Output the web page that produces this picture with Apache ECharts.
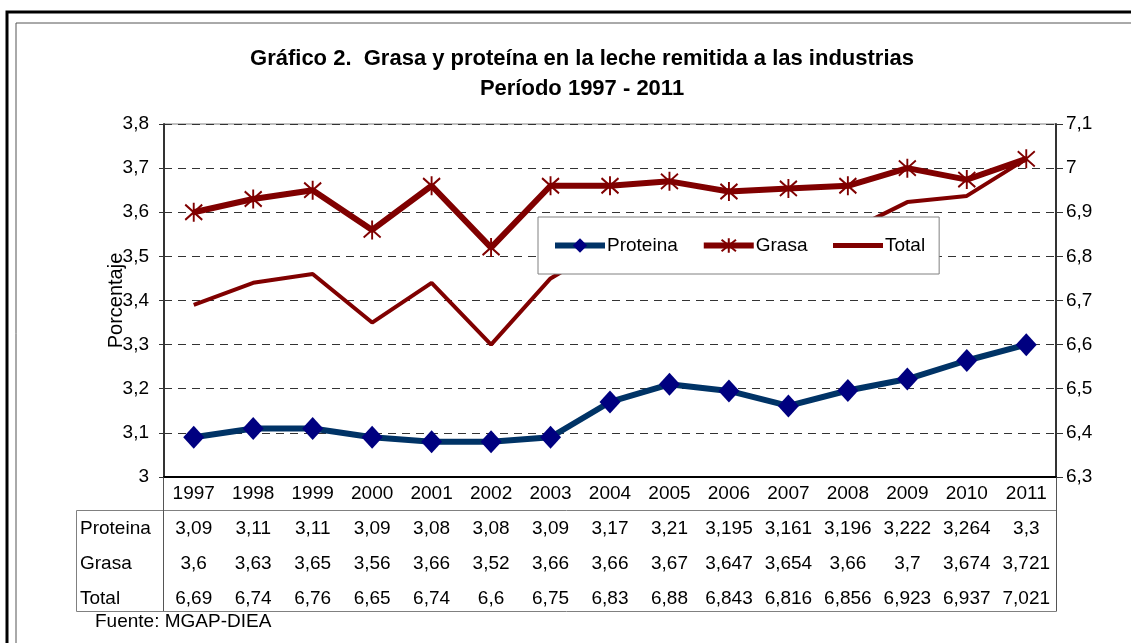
<!DOCTYPE html>
<html>
<head>
<meta charset="utf-8">
<script src="https://cdn.jsdelivr.net/npm/echarts@6/dist/echarts.min.js"></script>
<style>
html, body { margin: 0; padding: 0; background: #fff; }
#chart { width: 1131px; height: 643px; }
</style>
</head>
<body>
<div id="chart"></div>
<script>
// datos del cuadro
var years = ['1997', '1998', '1999', '2000', '2001', '2002', '2003', '2004', '2005', '2006', '2007', '2008', '2009', '2010', '2011'];
var proteina = [3.09, 3.11, 3.11, 3.09, 3.08, 3.08, 3.09, 3.17, 3.21, 3.195, 3.161, 3.196, 3.222, 3.264, 3.3];
var grasa = [3.6, 3.63, 3.65, 3.56, 3.66, 3.52, 3.66, 3.66, 3.67, 3.647, 3.654, 3.66, 3.7, 3.674, 3.721];
var total = [6.69, 6.74, 6.76, 6.65, 6.74, 6.6, 6.75, 6.83, 6.88, 6.843, 6.816, 6.856, 6.923, 6.937, 7.021];
var rowNames = ['Proteina', 'Grasa', 'Total'];

var FONT = '"Liberation Sans", Arial, sans-serif';
var coma = function (v) { return String(v).replace('.', ','); };
var tick = function (v) { return coma(+v.toFixed(1)); };

// asterisco del marcador de Grasa
var asterisk = 'path://M10,0L10,20M2,2L18,18M2,18L18,2';

// filas de la tabla como ejes extra (mismo grid)
function tableAxis(values, offset) {
	return {
		type: 'category',
		data: values.map(coma),
		position: 'bottom',
		offset: offset,
		axisLine: { show: false },
		axisTick: { show: false },
		axisLabel: { color: '#000', fontSize: 19, fontFamily: FONT, margin: 7, interval: 0 }
	};
}

var chart = echarts.init(document.getElementById('chart'));
var option = {
	backgroundColor: '#fff',
	animation: false,
	title: {
		text: 'Gráfico 2.  Grasa y proteína en la leche remitida a las industrias\nPeríodo 1997 - 2011',
		left: 577,
		textAlign: 'center',
		top: 39,
		textStyle: { fontFamily: FONT, fontSize: 22, fontWeight: 'bold', color: '#000', lineHeight: 30 }
	},
	legend: {
		left: 538,
		top: 217,
		padding: [19, 14, 19, 14],
		itemWidth: 50,
		itemHeight: 18,
		itemGap: 23,
		backgroundColor: '#fff',
		borderColor: '#808080',
		borderWidth: 1,
		borderRadius: 0,
		textStyle: { fontFamily: FONT, fontSize: 19, color: '#000', padding: [0, 0, 0, -3] },
		data: [
			{ name: rowNames[0], lineStyle: { width: 6 } },
			{ name: rowNames[1], lineStyle: { width: 6 } },
			{ name: rowNames[2], lineStyle: { width: 5 }, itemStyle: { opacity: 0 } }
		]
	},
	grid: {
		left: 164, right: 75, top: 124, bottom: 166,
		show: true, borderColor: '#808080', borderWidth: 1
	},
	xAxis: [
		{
			type: 'category',
			data: years,
			axisLine: { lineStyle: { color: '#000', width: 2 } },
			axisTick: { show: false },
			axisLabel: { color: '#000', fontSize: 19, fontFamily: FONT, margin: 7, interval: 0 }
		},
		tableAxis(proteina, 35),
		tableAxis(grasa, 70),
		tableAxis(total, 105)
	],
	yAxis: [
		{
			type: 'value', min: 3, max: 3.8, interval: 0.1,
			name: 'Porcentaje', nameLocation: 'middle', nameGap: 38, nameMoveOverlap: false,
			nameTextStyle: { color: '#000', fontSize: 20, fontFamily: FONT, padding: [0, 0, 0, 0] },
			axisLine: { show: true, lineStyle: { color: '#333', width: 2 } },
			axisTick: { show: true, length: 5, lineStyle: { color: '#333' } },
			axisLabel: { color: '#000', fontSize: 19, fontFamily: FONT, margin: 15, formatter: tick },
			splitLine: { lineStyle: { color: '#333', type: [8, 6], width: 1 } }
		},
		{
			type: 'value', min: 6.3, max: 7.1, interval: 0.1, position: 'right',
			axisLine: { show: true, lineStyle: { color: '#333', width: 2 } },
			axisTick: { show: true, length: 7, lineStyle: { color: '#333' } },
			axisLabel: { color: '#000', fontSize: 19, fontFamily: FONT, margin: 10, formatter: tick },
			splitLine: { show: false }
		}
	],
	series: [
		{
			name: 'Proteina', type: 'line', data: proteina, yAxisIndex: 0,
			symbol: 'diamond', symbolSize: [21, 23],
			lineStyle: { color: '#003366', width: 6 },
			itemStyle: { color: '#000080' },
			z: 4
		},
		{
			name: 'Grasa', type: 'line', data: grasa, yAxisIndex: 0,
			symbol: asterisk, symbolSize: [17, 19],
			lineStyle: { color: '#800000', width: 6 },
			itemStyle: { color: 'rgba(0,0,0,0)', borderColor: '#800000', borderWidth: 2 },
			z: 3
		},
		{
			name: 'Total', type: 'line', data: total, yAxisIndex: 1,
			symbol: 'none',
			lineStyle: { color: '#800000', width: 4 },
			itemStyle: { color: '#800000' },
			z: 2
		}
	],
	graphic: [
		// marcos exteriores
		{ type: 'rect', shape: { x: 7, y: 12, width: 1140, height: 650 }, style: { fill: 'none', stroke: '#000', lineWidth: 3 }, silent: true },
		{ type: 'rect', shape: { x: 16, y: 23, width: 1120, height: 640 }, style: { fill: 'none', stroke: '#555', lineWidth: 1 }, silent: true },
		// marco de la tabla
		{ type: 'rect', shape: { x: 76.5, y: 510.5, width: 980, height: 101 }, style: { fill: 'none', stroke: '#808080', lineWidth: 1 }, silent: true },
		{ type: 'line', shape: { x1: 163.5, y1: 477, x2: 163.5, y2: 611 }, style: { stroke: '#555', lineWidth: 1 }, silent: true },
		{ type: 'line', shape: { x1: 1056.5, y1: 477, x2: 1056.5, y2: 611 }, style: { stroke: '#555', lineWidth: 1 }, silent: true },
		{ type: 'text', left: 80, top: 519, style: { text: rowNames[0], font: '19px ' + FONT, fill: '#000' } },
		{ type: 'text', left: 80, top: 554, style: { text: rowNames[1], font: '19px ' + FONT, fill: '#000' } },
		{ type: 'text', left: 80, top: 589, style: { text: rowNames[2], font: '19px ' + FONT, fill: '#000' } },
		{ type: 'text', left: 95, top: 612, style: { text: 'Fuente: MGAP-DIEA', font: '19px ' + FONT, fill: '#000' } }
	]
};
chart.setOption(option);
</script>
</body>
</html>
